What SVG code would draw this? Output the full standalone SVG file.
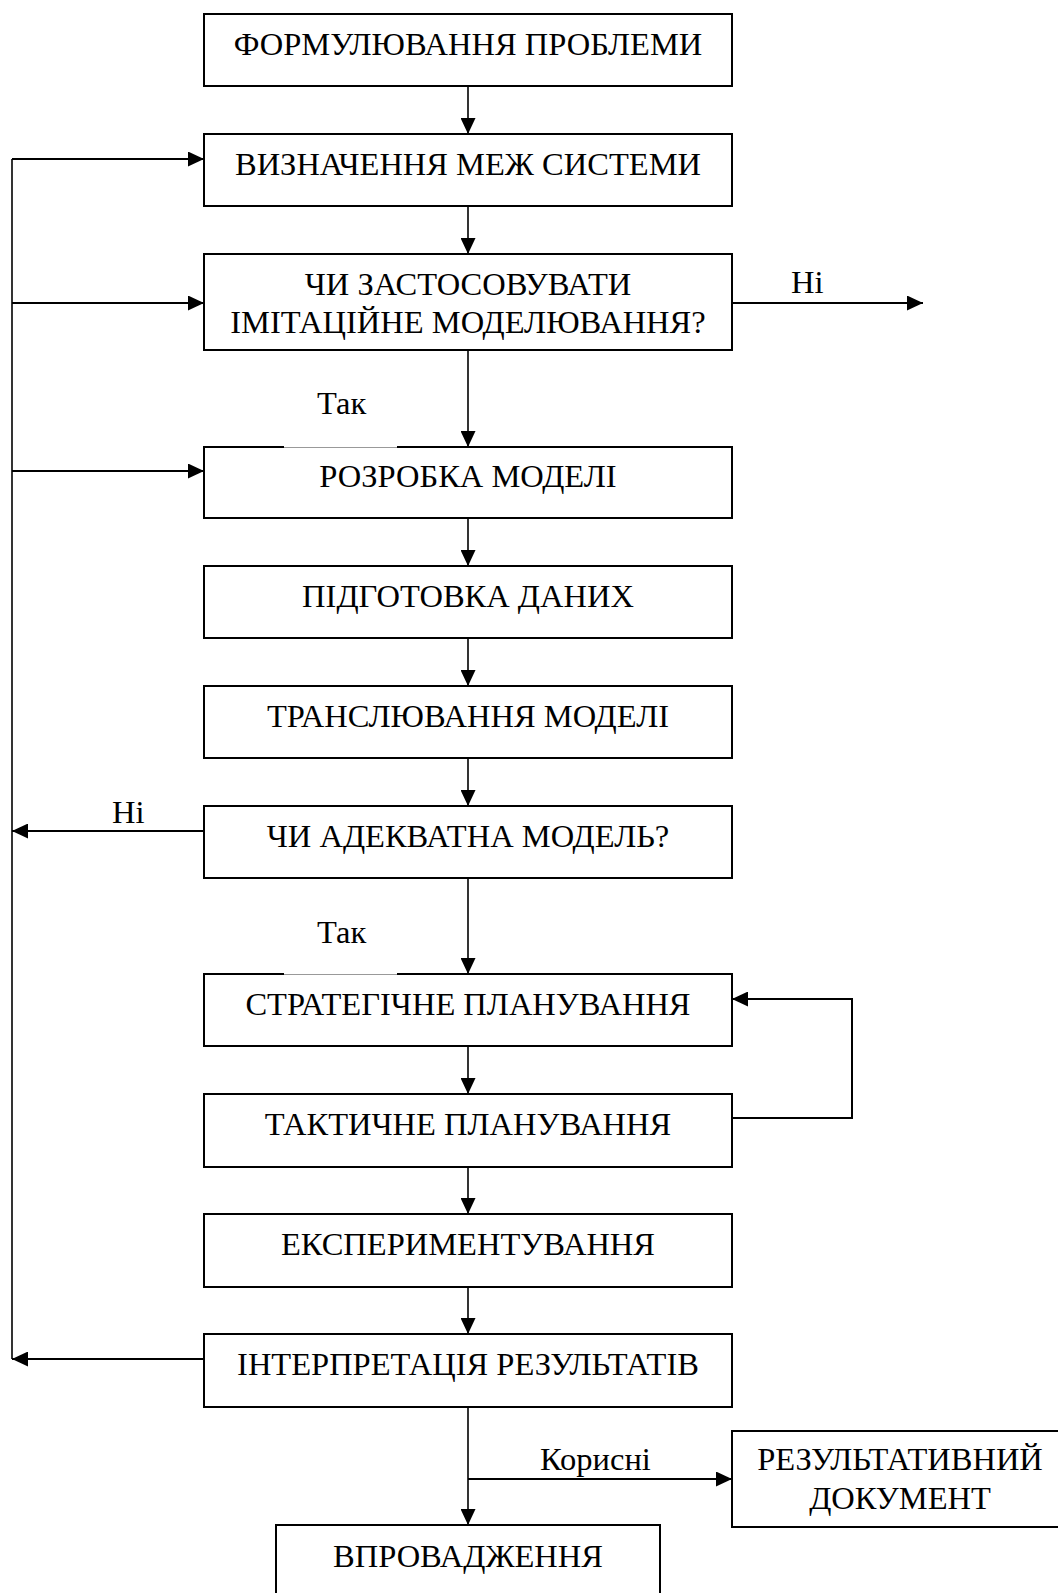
<svg xmlns="http://www.w3.org/2000/svg" width="1058" height="1593" viewBox="0 0 1058 1593">
<style>
.box{fill:#fff;stroke:#000;stroke-width:2}
.t{font-family:"Liberation Serif","Times New Roman",serif;font-size:32.5px;fill:#000;text-anchor:middle}
.lbl{font-family:"Liberation Serif","Times New Roman",serif;font-size:32.5px;fill:#000}
.c{fill:none;stroke:#000;stroke-width:1.6}
.ch{fill:none;stroke:#000;stroke-width:2}
</style>
<defs>
<marker id="ah" viewBox="0 0 16 15" refX="16" refY="7.5" markerWidth="16" markerHeight="15" markerUnits="userSpaceOnUse" orient="auto">
<path d="M0,0 L16,7.5 L0,15 Z" fill="#000"/>
</marker>
</defs>
<rect width="1058" height="1593" fill="#fff"/>
<g id="connectors">
<line class="c" x1="468" y1="86" x2="468" y2="134" marker-end="url(#ah)"/>
<line class="c" x1="468" y1="206" x2="468" y2="254" marker-end="url(#ah)"/>
<line class="c" x1="468" y1="350" x2="468" y2="447" marker-end="url(#ah)"/>
<line class="c" x1="468" y1="518" x2="468" y2="566" marker-end="url(#ah)"/>
<line class="c" x1="468" y1="638" x2="468" y2="686" marker-end="url(#ah)"/>
<line class="c" x1="468" y1="758" x2="468" y2="806" marker-end="url(#ah)"/>
<line class="c" x1="468" y1="878" x2="468" y2="974" marker-end="url(#ah)"/>
<line class="c" x1="468" y1="1046" x2="468" y2="1094" marker-end="url(#ah)"/>
<line class="c" x1="468" y1="1167" x2="468" y2="1214" marker-end="url(#ah)"/>
<line class="c" x1="468" y1="1287" x2="468" y2="1334" marker-end="url(#ah)"/>
<line class="c" x1="468" y1="1407" x2="468" y2="1525" marker-end="url(#ah)"/>
<line class="ch" x1="468" y1="1479" x2="732" y2="1479" marker-end="url(#ah)"/>
<line class="c" x1="12" y1="159" x2="12" y2="1359"/>
<line class="ch" x1="12" y1="159" x2="204" y2="159" marker-end="url(#ah)"/>
<line class="ch" x1="12" y1="303" x2="204" y2="303" marker-end="url(#ah)"/>
<line class="ch" x1="12" y1="471" x2="204" y2="471" marker-end="url(#ah)"/>
<line class="ch" x1="204" y1="831" x2="12" y2="831" marker-end="url(#ah)"/>
<line class="ch" x1="204" y1="1359" x2="12" y2="1359" marker-end="url(#ah)"/>
<line class="ch" x1="732" y1="303" x2="923" y2="303" marker-end="url(#ah)"/>
<polyline class="ch" points="732,1118 852,1118 852,999 732,999" marker-end="url(#ah)"/>
<text class="lbl" x="791" y="293">Ні</text>
<text class="lbl" x="112" y="823">Ні</text>
<text class="lbl" x="540" y="1470">Корисні</text>
</g>
<g id="n1"><rect class="box" x="204" y="14" width="528" height="72"/><text class="t" x="468" y="55">ФОРМУЛЮВАННЯ ПРОБЛЕМИ</text></g>
<g id="n2"><rect class="box" x="204" y="134" width="528" height="72"/><text class="t" x="468" y="175">ВИЗНАЧЕННЯ МЕЖ СИСТЕМИ</text></g>
<g id="n3"><rect class="box" x="204" y="254" width="528" height="96"/><text class="t" x="468" y="295">ЧИ ЗАСТОСОВУВАТИ</text><text class="t" x="468" y="333">ІМІТАЦІЙНЕ МОДЕЛЮВАННЯ?</text></g>
<g id="n4"><rect class="box" x="204" y="447" width="528" height="71"/><line x1="284" y1="447" x2="397" y2="447" stroke="#fff" stroke-width="3"/><line x1="284" y1="447.5" x2="397" y2="447.5" stroke="#999" stroke-width="1"/><text class="t" x="468" y="487">РОЗРОБКА МОДЕЛІ</text></g>
<g id="n5"><rect class="box" x="204" y="566" width="528" height="72"/><text class="t" x="468" y="607">ПІДГОТОВКА ДАНИХ</text></g>
<g id="n6"><rect class="box" x="204" y="686" width="528" height="72"/><text class="t" x="468" y="727">ТРАНСЛЮВАННЯ МОДЕЛІ</text></g>
<g id="n7"><rect class="box" x="204" y="806" width="528" height="72"/><text class="t" x="468" y="847">ЧИ АДЕКВАТНА МОДЕЛЬ?</text></g>
<g id="n8"><rect class="box" x="204" y="974" width="528" height="72"/><line x1="284" y1="974" x2="397" y2="974" stroke="#fff" stroke-width="3"/><line x1="284" y1="974.5" x2="397" y2="974.5" stroke="#999" stroke-width="1"/><text class="t" x="468" y="1015">СТРАТЕГІЧНЕ ПЛАНУВАННЯ</text></g>
<g id="n9"><rect class="box" x="204" y="1094" width="528" height="73"/><text class="t" x="468" y="1135">ТАКТИЧНЕ ПЛАНУВАННЯ</text></g>
<g id="n10"><rect class="box" x="204" y="1214" width="528" height="73"/><text class="t" x="468" y="1255">ЕКСПЕРИМЕНТУВАННЯ</text></g>
<g id="n11"><rect class="box" x="204" y="1334" width="528" height="73"/><text class="t" x="468" y="1375">ІНТЕРПРЕТАЦІЯ РЕЗУЛЬТАТІВ</text></g>
<g id="n12"><rect class="box" x="732" y="1431" width="340" height="96"/><text class="t" x="900" y="1470">РЕЗУЛЬТАТИВНИЙ</text><text class="t" x="900" y="1509">ДОКУМЕНТ</text></g>
<g id="n13"><rect class="box" x="276" y="1525" width="384" height="100"/><text class="t" x="468" y="1567">ВПРОВАДЖЕННЯ</text></g>
<g id="yes-labels">
<text class="lbl" x="317" y="414">Так</text>
<text class="lbl" x="317" y="943">Так</text>
</g>
</svg>
